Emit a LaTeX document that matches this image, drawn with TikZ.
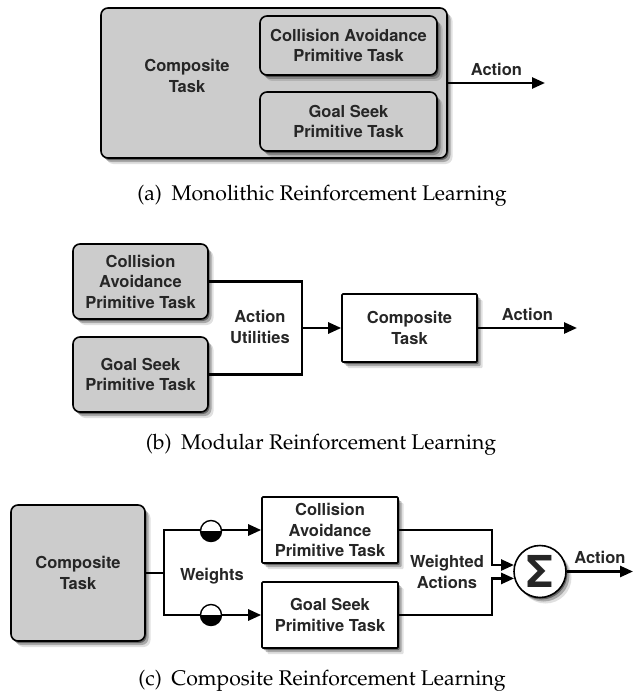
\documentclass[tikz,border=0pt]{standalone}
\usepackage[T1]{fontenc}
\usepackage{fontspec}
\setsansfont{TeX Gyre Heros}
\usetikzlibrary{arrows.meta,shadows}

\tikzset{
  lbl/.style={font=\sffamily\bfseries\fontsize{16.5}{20.5}\selectfont, text=black!85, align=center},
  soft shadow/.style={
    drop shadow={shadow xshift=1.5pt, shadow yshift=-2pt, fill=black, opacity=0.4},
    drop shadow={shadow xshift=3.5pt, shadow yshift=-4pt, fill=black, opacity=0.25},
    drop shadow={shadow xshift=5.5pt, shadow yshift=-6pt, fill=black, opacity=0.12}},
  task/.style={lbl, draw=black, line width=1.6pt, fill=black!20, rounded corners=7pt, soft shadow},
  plain/.style={task, fill=white, rounded corners=1pt},
  wire/.style={line width=2.6pt},
  conn/.style={wire, -{Triangle[length=13pt,width=11pt]}},
  gauge/.style={circle, draw, line width=1.4pt, fill=white, minimum size=21pt, inner sep=0pt,
    path picture={\fill[black] (path picture bounding box.west) rectangle (path picture bounding box.south east);}},
  subcap/.style={font=\fontencoding{T1}\fontfamily{ppl}\fontsize{21.2}{24}\selectfont}
}

\begin{document}
\begin{tikzpicture}[x=1pt,y=-1pt]
\useasboundingbox (0,0) rectangle (633,698);

% (a) monolithic
\node[task, minimum width=346pt, minimum height=150pt] (mono) at (274,83) {};
\node[lbl] (monotxt) at (187,76) {Composite\\Task};
\node[task, minimum width=177pt, minimum height=59pt] (ca1) at (348.5,45.5) {Collision Avoidance\\Primitive Task};
\node[task, minimum width=177pt, minimum height=59pt] (gs1) at (348.5,121.5) {Goal Seek\\Primitive Task};
\coordinate (out1) at (545,83);
\draw[conn] (mono.east) -- (out1) node[lbl, midway, above=3pt] {Action};
\node[subcap] (capa) at (322,196) {(a)\hspace{0.45em}Monolithic Reinforcement Learning};

% (b) modular
\node[task, minimum width=135pt, minimum height=75pt] (ca2) at (140.5,281.5) {Collision\\Avoidance\\Primitive Task};
\node[task, minimum width=135pt, minimum height=75pt] (gs2) at (140.5,374.5) {Goal Seek\\Primitive Task};
\node[plain, minimum width=135pt, minimum height=68pt] (comp2) at (409.5,328) {Composite\\Task};
\draw[wire] (ca2.east) -- ++(93,0) coordinate (br2) -- (br2 |- gs2.east) -- (gs2.east);
\draw[conn] (br2 |- comp2.west) -- (comp2.west);
\node[lbl] (util) at (260,327) {Action\\Utilities};
\coordinate (out2) at (577,328);
\draw[conn] (comp2.east) -- (out2) node[lbl, midway, above=3pt] {Action};
\node[subcap] (capb) at (321,445) {(b)\hspace{0.45em}Modular Reinforcement Learning};

% (c) composite
\node[task, minimum width=134pt, minimum height=136pt] (comp3) at (78,573) {Composite\\Task};
\node[plain, minimum width=136pt, minimum height=66pt] (ca3) at (330,530) {Collision\\Avoidance\\Primitive Task};
\node[plain, minimum width=136pt, minimum height=66pt] (gs3) at (330,615) {Goal Seek\\Primitive Task};
\node[circle, draw, line width=1.6pt, fill=white, minimum size=52pt, inner sep=0pt, soft shadow,
  font=\sffamily\bfseries\fontsize{44}{44}\selectfont, text=black!85] (sum) at (540,571.5) {Σ};
\draw[wire] (comp3.east) -- ++(18,0) coordinate (w);
\draw[conn] (w) |- (ca3.west);
\draw[conn] (w) |- (gs3.west);
\node[gauge] (g1) at (211,531) {};
\node[gauge] (g2) at (211,615) {};
\node[lbl] (wts) at (212,576) {Weights};
\draw[conn] (ca3.east) -- ++(93,0) |- (sum.166);
\draw[conn] (gs3.east) -- ++(93,0) |- (sum.195);
\node[lbl] (wact) at (447,572) {Weighted\\Actions};
\coordinate (out3) at (633,571.5);
\draw[conn] (sum.east) -- (out3) node[lbl, midway, above=3pt] {Action};
\node[subcap] (capc) at (322,681) {(c)\hspace{0.45em}Composite Reinforcement Learning};
\end{tikzpicture}
\end{document}
